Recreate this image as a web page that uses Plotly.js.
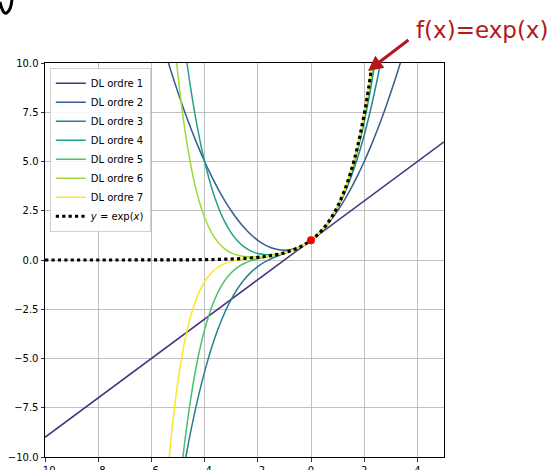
<!DOCTYPE html>
<html>
<head>
<meta charset="utf-8">
<script src="https://cdn.plot.ly/plotly-3.0.1.min.js"></script>
<style>html,body{margin:0;padding:0;background:#fff;}#chart{width:558px;height:470px;}</style>
</head>
<body>
<div id="chart"></div>
<script>
// ---- data ----
const seriesNames = ["DL ordre 1","DL ordre 2","DL ordre 3","DL ordre 4","DL ordre 5","DL ordre 6","DL ordre 7"];
const seriesColors = ["#46327e","#365c8d","#277f8e","#1fa187","#4ac16d","#a0da39","#fde725"];

const xOrder1 = [-10, 5];
const yOrder1 = [-9, 6];

const xGrid = [-5.5,-5.25,-5,-4.75,-4.5,-4.25,-4,-3.75,-3.5,-3.25,-3,-2.75,-2.5,-2.25,-2,-1.75,-1.5,-1.25,-1,-0.75,-0.5,-0.25,0,0.25,0.5,0.75,1,1.25,1.5,1.75,2,2.25,2.5,2.75,3,3.25,3.5];

const yOrder2 = [10.625,9.531,8.5,7.531,6.625,5.781,5,4.281,3.625,3.031,2.5,2.031,1.625,1.281,1,0.781,0.625,0.531,0.5,0.531,0.625,0.781,1,1.281,1.625,2.031,2.5,3.031,3.625,4.281,5,5.781,6.625,7.531,8.5,9.531,10.625];
const yOrder3 = [-17.104,-14.586,-12.333,-10.331,-8.563,-7.013,-5.667,-4.508,-3.521,-2.690,-2,-1.435,-0.979,-0.617,-0.333,-0.112,0.0625,0.206,0.333,0.461,0.604,0.779,1,1.284,1.646,2.102,2.667,3.357,4.188,5.174,6.333,7.680,9.229,10.997,null,null,null];
const yOrder4 = [21.023,17.068,13.708,10.880,8.523,6.581,5,3.732,2.732,1.959,1.375,0.948,0.648,0.451,0.333,0.279,0.273,0.307,0.375,0.474,0.607,0.779,1,1.284,1.648,2.115,2.708,3.459,4.398,5.565,7,8.748,10.857,null,null,null,null];
const yOrder5 = [-20.917,-16.169,-12.333,-9.270,-6.854,-4.974,-3.533,-2.448,-1.645,-1.063,-0.65,-0.363,-0.165,-0.030,0.067,0.142,0.210,0.282,0.367,0.472,0.607,0.779,1,1.284,1.649,2.117,2.717,3.484,4.462,5.702,7.267,9.228,11.671,null,null,null,null];
const yOrder6 = [17.528,12.913,9.368,6.682,4.679,3.211,2.156,1.415,0.908,0.574,0.3625,0.238,0.174,0.150,0.156,0.182,0.226,0.287,0.368,0.472,0.607,0.779,1,1.284,1.649,2.117,2.718,3.489,4.478,5.742,7.356,9.408,12.010,null,null,null,null];
const yOrder7 = [-12.679,-8.898,-6.133,-4.143,-2.735,-1.759,-1.095,-0.655,-0.368,-0.186,-0.071,0.002,0.053,0.092,0.130,0.172,0.223,0.286,0.368,0.472,0.607,0.779,1,1.284,1.649,2.117,2.718,3.490,4.481,5.752,7.381,9.466,12.131,null,null,null,null];

const expX = [-10,-9,-8,-7,-6,-5.5,-5,-4.5,-4,-3.5,-3,-2.5,-2,-1.75,-1.5,-1.25,-1,-0.75,-0.5,-0.25,0,0.25,0.5,0.75,1,1.25,1.5,1.75,2,2.1,2.2,2.3,2.35];
const expY = [0.0000454,0.000123,0.000335,0.000912,0.00248,0.00409,0.00674,0.01111,0.01832,0.0302,0.04979,0.08208,0.13534,0.17377,0.22313,0.2865,0.36788,0.47237,0.60653,0.7788,1,1.28403,1.64872,2.117,2.71828,3.49034,4.48169,5.7546,7.38906,8.16617,9.02501,9.97418,10.48557];
const expName = "<i>y</i> = exp(<i>x</i>)";

const pointX = [0];
const pointY = [1];

const xTicks = [-10,-8,-6,-4,-2,0,2,4];
const yTicks = [-10,-7.5,-5,-2.5,0,2.5,5,7.5,10];

const noteText = "f(x)=exp(x)";

// ---- traces ----
const polyX = [xOrder1, xGrid, xGrid, xGrid, xGrid, xGrid, xGrid];
const polyY = [yOrder1, yOrder2, yOrder3, yOrder4, yOrder5, yOrder6, yOrder7];
const traces = polyY.map((ys, i) => ({
  type: "scatter", mode: "lines",
  x: polyX[i], y: ys, name: seriesNames[i],
  line: {color: seriesColors[i], width: 1.5, shape: i === 0 ? "linear" : "spline", smoothing: 1},
  connectgaps: false
}));
traces.push({
  type: "scatter", mode: "lines", x: expX, y: expY, name: expName,
  line: {color: "#000000", width: 3.2, dash: "dot", shape: "spline", smoothing: 1}
});
traces.push({
  type: "scatter", mode: "markers", x: pointX, y: pointY, showlegend: false,
  marker: {color: "#ff0000", size: 8, line: {width: 0}}, cliponaxis: false
});

const axisCommon = {
  showgrid: true, gridcolor: "#b0b0b0", gridwidth: 0.8, zeroline: false,
  showline: true, linecolor: "#000000", linewidth: 1, mirror: true,
  ticks: "outside", ticklen: 3.5, tickcolor: "#000000", tickwidth: 0.8,
  tickfont: {family: "DejaVu Sans", size: 10, color: "#000000"}
};

const layout = {
  width: 558, height: 470,
  margin: {l: 45, r: 114, t: 63, b: 13, pad: 0},
  paper_bgcolor: "#ffffff", plot_bgcolor: "#ffffff",
  font: {family: "DejaVu Sans", size: 10, color: "#000000"},
  xaxis: Object.assign({}, axisCommon, {range: [-10, 5], tickmode: "array", tickvals: xTicks}),
  yaxis: Object.assign({}, axisCommon, {range: [-10, 10], tickmode: "array", tickvals: yTicks, tickformat: ".1f"}),
  showlegend: true,
  legend: {
    x: 0.012, y: 0.988, xanchor: "left", yanchor: "top",
    bgcolor: "rgba(255,255,255,0.85)", bordercolor: "#d0d0d0", borderwidth: 1,
    font: {family: "DejaVu Sans", size: 10, color: "#000000"},
    itemwidth: 30, tracegroupgap: 0
  },
  annotations: [
    {xref: "paper", yref: "paper", x: 1.095, y: 1.085, xanchor: "center", yanchor: "middle",
     text: noteText, showarrow: false,
     font: {family: "DejaVu Sans", size: 23, color: "#b3191c"}},
    {xref: "x", yref: "y", x: 2.14, y: 9.6, text: "", showarrow: true,
     ax: 42, ay: -32, arrowhead: 2, arrowsize: 1, arrowwidth: 3, arrowcolor: "#b3191c"}
  ],
  shapes: [
    {type: "path", xref: "paper", yref: "paper",
     path: "M -0.113,1.155 Q -0.105,1.12 -0.095,1.128 Q -0.085,1.135 -0.083,1.16",
     line: {color: "#000000", width: 3}}
  ]
};

Plotly.newPlot("chart", traces, layout, {displayModeBar: false, staticPlot: true});
</script>
</body>
</html>
